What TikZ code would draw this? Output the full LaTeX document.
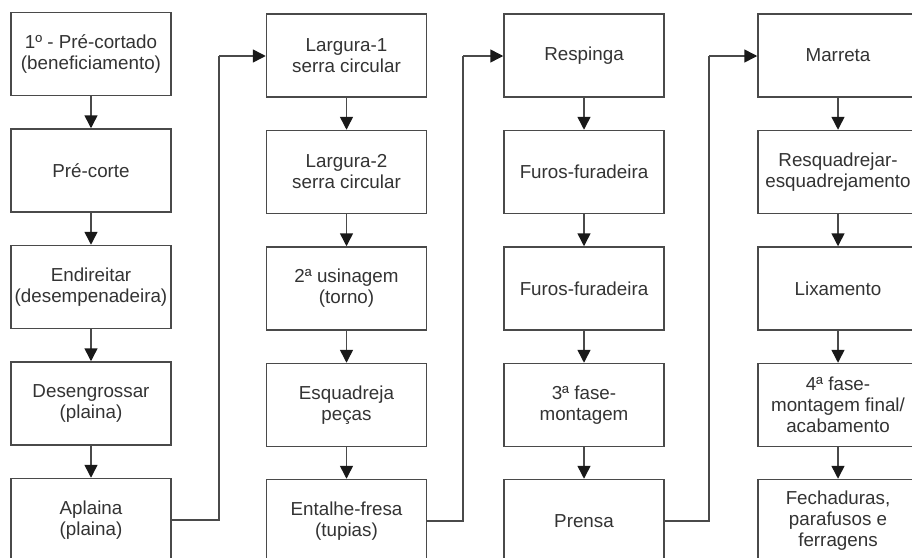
\documentclass[tikz,border=0pt]{standalone}
\usepackage{fontspec}
\setmainfont{Liberation Sans}
\usetikzlibrary{arrows.meta}
\definecolor{linec}{HTML}{4A4A4A}
\definecolor{textc}{HTML}{333333}
\tikzset{
  stepbox/.style={draw=linec, line width=1.5pt, fill=white, minimum width=160pt, minimum height=83pt,
    inner sep=0pt, align=center, text=textc, font=\fontsize{18.8}{21}\selectfont},
  conn/.style={draw=linec, line width=1.5pt, -{Triangle[width=13pt,length=13pt,color=black!90]}},
  link/.style={draw=linec, line width=1.5pt}
}
\begin{document}
\begin{tikzpicture}[x=1pt,y=-1pt]
\useasboundingbox (0,0) rectangle (912,557);
\fill[white] (0,0) rectangle (912,557);
\clip (0,0) rectangle (912,557);
% column 1
\node[stepbox] (a1) at (91,54) {1º - Pré-cortado\\(beneficiamento)};
\node[stepbox] (a2) at (91,170.5) {Pré-corte};
\node[stepbox] (a3) at (91,287) {Endireitar\\(desempenadeira)};
\node[stepbox] (a4) at (91,403.5) {Desengrossar\\(plaina)};
\node[stepbox] (a5) at (91,520) {Aplaina\\(plaina)};
% column 2
\node[stepbox] (b1) at (346.5,55.5) {Largura-1\\serra circular};
\node[stepbox] (b2) at (346.5,172) {Largura-2\\serra circular};
\node[stepbox] (b3) at (346.5,288.5) {2ª usinagem\\(torno)};
\node[stepbox] (b4) at (346.5,405) {Esquadreja\\peças};
\node[stepbox] (b5) at (346.5,521) {Entalhe-fresa\\(tupias)};
% column 3
\node[stepbox] (c1) at (584,55.5) {Respinga};
\node[stepbox] (c2) at (584,172) {Furos-furadeira};
\node[stepbox] (c3) at (584,288.5) {Furos-furadeira};
\node[stepbox] (c4) at (584,405) {3ª fase-\\montagem};
\node[stepbox] (c5) at (584,521) {Prensa};
% column 4
\node[stepbox] (d1) at (838,55.5) {Marreta};
\node[stepbox] (d2) at (838,172) {Resquadrejar-\\esquadrejamento};
\node[stepbox] (d3) at (838,288.5) {Lixamento};
\node[stepbox] (d4) at (838,405) {4ª fase-\\montagem final/\\acabamento};
\node[stepbox] (d5) at (838,521) {Fechaduras,\\parafusos e\\ferragens};
% vertical arrows
\foreach \c in {a,b,c,d}{
  \draw[conn] (\c1.south) -- (\c2.north);
  \draw[conn] (\c2.south) -- (\c3.north);
  \draw[conn] (\c3.south) -- (\c4.north);
  \draw[conn] (\c4.south) -- (\c5.north);
}
% column links
\coordinate (k1) at (219,56);
\coordinate (k2) at (463,56);
\coordinate (k3) at (709,56);
\draw[link] (a5.east) -| (k1);
\draw[conn] (k1) -- (b1.west |- k1);
\draw[link] (b5.east) -| (k2);
\draw[conn] (k2) -- (c1.west |- k2);
\draw[link] (c5.east) -| (k3);
\draw[conn] (k3) -- (d1.west |- k3);
\end{tikzpicture}
\end{document}
